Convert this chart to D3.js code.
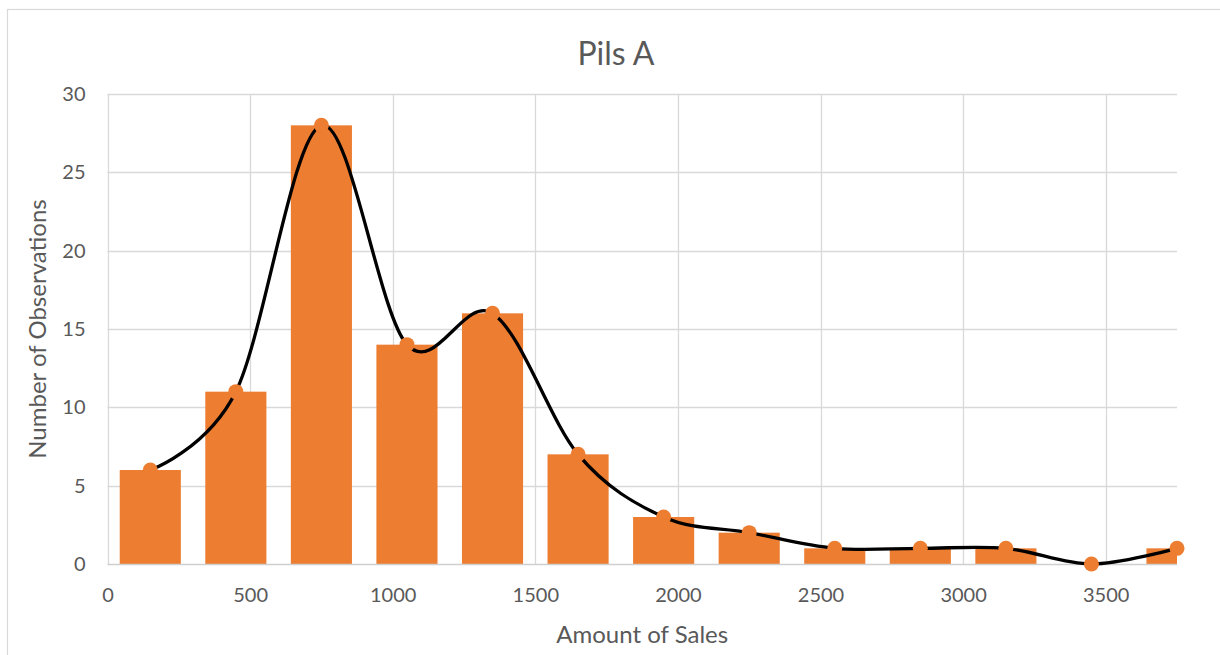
<!DOCTYPE html>
<html>
<head>
<meta charset="utf-8">
<script src="https://cdn.jsdelivr.net/npm/d3@7"></script>
<style>
  body { margin: 0; background: #fff; }
  text { font-family: Lato, "Open Sans", sans-serif; fill: #595959; }
</style>
</head>
<body>
<script>
// data
var binCenters = [150, 450, 750, 1050, 1350, 1650, 1950, 2250, 2550, 2850, 3150, 3450, 3750];
var counts = [6, 11, 28, 14, 16, 7, 3, 2, 1, 1, 1, 0, 1];
var xTicks = [0, 500, 1000, 1500, 2000, 2500, 3000, 3500];
var yTicks = [0, 5, 10, 15, 20, 25, 30];
var chartTitle = "Pils A";
var xTitle = "Amount of Sales";
var yTitle = "Number of Observations";

var w = 1220;
var h = 655;
var plotLeft = 107.5, plotRight = 1177, plotTop = 94, plotBottom = 564;
var binWidth = 300;
var barFrac = 1 / 1.4; // excel gap width 40%

var svg = d3.select("body")
  .append("svg")
  .attr("width", w)
  .attr("height", h);

// chart area border
svg.append("rect")
  .attr("x", 7.5)
  .attr("y", 9.5)
  .attr("width", 1400)
  .attr("height", 800)
  .attr("fill", "#fff")
  .attr("stroke", "#d9d9d9")
  .attr("stroke-width", 1.2);

var xScale = d3.scaleLinear()
  .domain([0, 3750])
  .range([plotLeft, plotRight]);

var yScale = d3.scaleLinear()
  .domain([0, 30])
  .range([plotBottom, plotTop]);

// gridlines
svg.append("g")
  .selectAll("line")
  .data(yTicks.filter(d => d > 0))
  .enter()
  .append("line")
  .attr("x1", plotLeft)
  .attr("x2", plotRight)
  .attr("y1", d => Math.round(yScale(d)) + 0.5)
  .attr("y2", d => Math.round(yScale(d)) + 0.5)
  .attr("stroke", "#d9d9d9")
  .attr("stroke-width", 1.3);

svg.append("g")
  .selectAll("line")
  .data(xTicks)
  .enter()
  .append("line")
  .attr("x1", d => Math.round(xScale(d)) + 0.5)
  .attr("x2", d => Math.round(xScale(d)) + 0.5)
  .attr("y1", plotTop)
  .attr("y2", plotBottom)
  .attr("stroke", "#d9d9d9")
  .attr("stroke-width", 1.3);

// bars, clipped to the plot area (last bin runs past the edge)
svg.append("clipPath")
  .attr("id", "plotClip")
  .append("rect")
  .attr("x", plotLeft)
  .attr("y", plotTop - 5)
  .attr("width", plotRight - plotLeft)
  .attr("height", plotBottom - plotTop + 5);

svg.append("g")
  .attr("clip-path", "url(#plotClip)")
  .selectAll("rect")
  .data(counts)
  .enter()
  .append("rect")
  .attr("x", (d, i) => xScale(binCenters[i] - binWidth * barFrac / 2))
  .attr("width", (d, i) => xScale(binCenters[i] + binWidth * barFrac / 2) - xScale(binCenters[i] - binWidth * barFrac / 2))
  .attr("y", d => yScale(d))
  .attr("height", d => plotBottom - yScale(d))
  .attr("fill", "#ed7d31");

// x axis line
svg.append("line")
  .attr("x1", plotLeft)
  .attr("x2", plotRight)
  .attr("y1", plotBottom + 0.5)
  .attr("y2", plotBottom + 0.5)
  .attr("stroke", "#cfcfcf")
  .attr("stroke-width", 1.5);

// tick labels
var xAxis = d3.axisBottom(xScale)
  .tickValues(xTicks)
  .tickFormat(d3.format("d"))
  .tickSize(0)
  .tickPadding(24);

svg.append("g")
  .attr("transform", `translate(0, ${plotBottom})`)
  .call(xAxis)
  .call(g => g.select(".domain").remove())
  .selectAll("text")
  .attr("font-size", 20)
  .attr("fill", "#595959")
  .attr("font-family", null);

var yAxis = d3.axisLeft(yScale)
  .tickValues(yTicks)
  .tickFormat(d3.format("d"))
  .tickSize(0)
  .tickPadding(22);

svg.append("g")
  .attr("transform", `translate(${plotLeft}, 0)`)
  .call(yAxis)
  .call(g => g.select(".domain").remove())
  .selectAll("text")
  .attr("font-size", 20)
  .attr("fill", "#595959")
  .attr("font-family", null);

// smoothed line through the bin tops
var line = d3.line()
  .x((d, i) => xScale(binCenters[i]))
  .y(d => yScale(d))
  .curve(d3.curveCardinal.tension(0));

svg.append("path")
  .datum(counts)
  .attr("d", line)
  .attr("fill", "none")
  .attr("stroke", "#000")
  .attr("stroke-width", 3.3);

svg.append("g")
  .selectAll("circle")
  .data(counts)
  .enter()
  .append("circle")
  .attr("cx", (d, i) => xScale(binCenters[i]))
  .attr("cy", d => yScale(d))
  .attr("r", 7.5)
  .attr("fill", "#ed7d31");

// titles
svg.append("text")
  .attr("x", 616)
  .attr("y", 65)
  .attr("text-anchor", "middle")
  .attr("font-size", 32)
  .text(chartTitle);

svg.append("text")
  .attr("x", (plotLeft + plotRight) / 2)
  .attr("y", 643)
  .attr("text-anchor", "middle")
  .attr("font-size", 24)
  .text(xTitle);

svg.append("text")
  .attr("transform", `translate(46, ${(plotTop + plotBottom) / 2}) rotate(-90)`)
  .attr("text-anchor", "middle")
  .attr("font-size", 24)
  .text(yTitle);
</script>
</body>
</html>
